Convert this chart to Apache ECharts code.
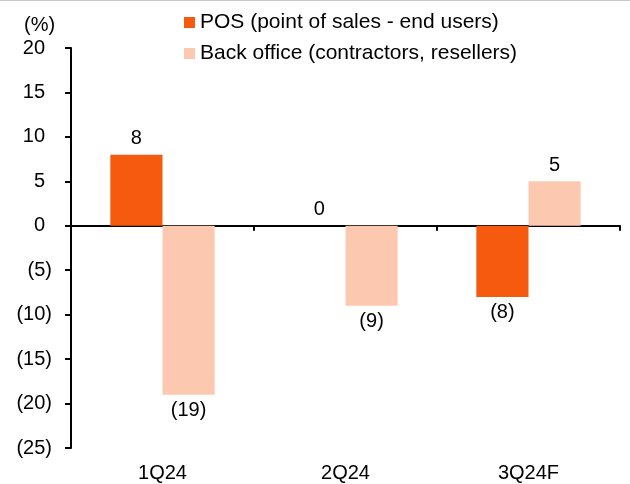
<!DOCTYPE html>
<html>
<head>
<meta charset="utf-8">
<script src="https://cdn.jsdelivr.net/npm/echarts@6/dist/echarts.min.js"></script>
<style>
  html, body { margin: 0; padding: 0; background: #fff; }
  #chart { width: 630px; height: 484px; }
</style>
</head>
<body>
<div id="chart"></div>
<script>
const categories = ["1Q24", "2Q24", "3Q24F"];
const posValues = [8, 0, -8];
const backOfficeValues = [-19, -9, 5];
const seriesNames = ["POS (point of sales - end users)", "Back office (contractors, resellers)"];

const font = "Liberation Sans";

function fmt(v) {
  return v < 0 ? "(" + Math.abs(v) + ")" : String(v);
}

// negative bars get their label underneath
function withLabels(values) {
  return values.map(v => ({
    value: v,
    label: { position: v < 0 ? "bottom" : "top" }
  }));
}

const chart = echarts.init(document.getElementById("chart"));
chart.setOption({
  animation: false,
  textStyle: { fontFamily: font },
  graphic: [
    { type: "rect", left: 0, top: 0, shape: { width: 630, height: 1 }, style: { fill: "#c8c8c8" } }
  ],
  title: {
    text: "(%)",
    left: 19,
    top: 10,
    textStyle: { fontFamily: font, fontSize: 20, fontWeight: "normal", color: "#000" }
  },
  legend: {
    orient: "vertical",
    left: 179,
    top: 7,
    itemWidth: 11,
    itemHeight: 11,
    itemGap: 10,
    icon: "rect",
    textStyle: { fontFamily: font, fontSize: 21, color: "#000", padding: [0, 0, 0, 0] },
    data: seriesNames
  },
  grid: { left: 71, right: 10, top: 48, bottom: 36 },
  xAxis: [
    {
      type: "category",
      data: categories,
      axisLine: { onZero: true, lineStyle: { color: "#000", width: 2 } },
      axisTick: { show: true, inside: false, length: 5, lineStyle: { color: "#000", width: 2 } },
      axisLabel: { show: false }
    },
    {
      type: "category",
      data: categories,
      position: "bottom",
      axisLine: { show: false, onZero: false },
      axisTick: { show: false },
      axisLabel: { color: "#000", fontSize: 20, fontFamily: font, margin: 15 }
    }
  ],
  yAxis: {
    type: "value",
    min: -25,
    max: 20,
    interval: 5,
    axisLine: { show: true, lineStyle: { color: "#000", width: 2 } },
    axisTick: { show: true, length: 6, lineStyle: { color: "#000", width: 2 } },
    splitLine: { show: false },
    axisLabel: {
      color: "#000", fontSize: 20, fontFamily: font, margin: 19,
      formatter: v => v < 0 ? fmt(v) : "{p|" + v + "}",
      rich: { p: { fontSize: 20, fontFamily: font, color: "#000", padding: [0, 7, 0, 0] } }
    }
  },
  series: [
    {
      name: seriesNames[0],
      type: "bar",
      xAxisIndex: 0,
      barWidth: "28.5%",
      barGap: "0%",
      itemStyle: { color: "#F55A0F" },
      label: { show: true, color: "#000", fontSize: 20, fontFamily: font, distance: 6, formatter: p => fmt(p.value) },
      data: withLabels(posValues)
    },
    {
      name: seriesNames[1],
      type: "bar",
      xAxisIndex: 0,
      barWidth: "28.5%",
      barGap: "0%",
      itemStyle: { color: "#FCC9B0" },
      label: { show: true, color: "#000", fontSize: 20, fontFamily: font, distance: 6, formatter: p => fmt(p.value) },
      data: withLabels(backOfficeValues)
    }
  ]
});
</script>
</body>
</html>
